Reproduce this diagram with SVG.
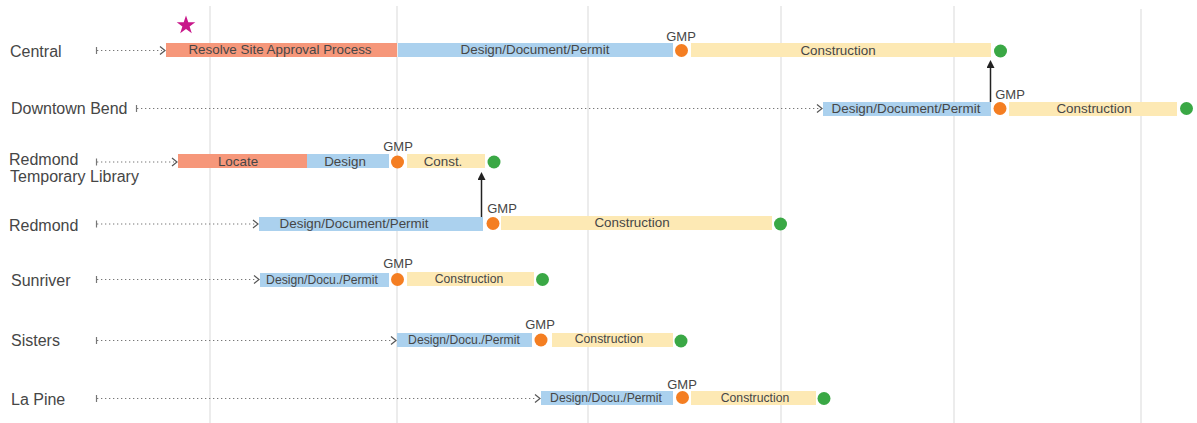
<svg xmlns="http://www.w3.org/2000/svg" width="1197" height="423" viewBox="0 0 1197 423">
<defs>
<style>
.grid{stroke:#e6e6e6;stroke-width:1.5}
.lbl{font-family:"Liberation Sans",Arial,sans-serif;font-size:16px;fill:#464646}
.bt{font-family:"Liberation Sans",Arial,sans-serif;font-size:13.4px;fill:#464646;text-anchor:middle}
.bs{font-family:"Liberation Sans",Arial,sans-serif;font-size:12.2px;fill:#464646;text-anchor:middle}
.gmp{font-family:"Liberation Sans",Arial,sans-serif;font-size:13px;fill:#464646;text-anchor:middle}
.sal{fill:#f6977a}
.blu{fill:#abd1ee}
.yel{fill:#fde9b4}
.org{fill:#f47e22}
.grn{fill:#3aa845}
.dot{stroke:#777;stroke-width:1.2;stroke-dasharray:1.3 2.7;fill:none}
.tick{stroke:#777;stroke-width:1.2}
.chev{stroke:#555;stroke-width:1.2;fill:none}
.dep{stroke:#222;stroke-width:1.5;fill:none}
</style>
<marker id="ah" viewBox="0 0 10 10" refX="5" refY="5" markerWidth="8" markerHeight="8" markerUnits="userSpaceOnUse" orient="auto">
<path d="M0,0 L10,5 L0,10 z" fill="#222"/>
</marker>
</defs>
<rect width="1197" height="423" fill="#fff"/>
<g id="grid">
<line class="grid" x1="210" y1="6" x2="210" y2="423"/>
<line class="grid" x1="397" y1="6" x2="397" y2="423"/>
<line class="grid" x1="588" y1="6" x2="588" y2="423"/>
<line class="grid" x1="781" y1="6" x2="781" y2="423"/>
<line class="grid" x1="954" y1="6" x2="954" y2="423"/>
<line class="grid" x1="1141" y1="9" x2="1141" y2="423"/>
</g>
<g id="star">
<polygon fill="#c8178a" points="186,15.5 188.3,22.3 195.3,22.3 189.6,26.5 191.8,33.3 186,29.1 180.2,33.3 182.4,26.5 176.7,22.3 183.7,22.3"/>
</g>
<g id="connectors">
<line class="tick" x1="96.5" y1="47" x2="96.5" y2="54"/>
<line class="dot" x1="97" y1="50.5" x2="162" y2="50.5"/>
<polyline class="chev" points="160,46.5 165,50.5 160,54.5"/>
<line class="tick" x1="136.5" y1="105" x2="136.5" y2="112"/>
<line class="dot" x1="137" y1="108.5" x2="819" y2="108.5"/>
<polyline class="chev" points="817,104.5 822,108.5 817,112.5"/>
<line class="tick" x1="96.5" y1="158.5" x2="96.5" y2="165.5"/>
<line class="dot" x1="97" y1="162" x2="174" y2="162"/>
<polyline class="chev" points="172,158 177,162 172,166"/>
<line class="tick" x1="96.5" y1="220.5" x2="96.5" y2="227.5"/>
<line class="dot" x1="97" y1="224" x2="255" y2="224"/>
<polyline class="chev" points="253,220 258,224 253,228"/>
<line class="tick" x1="96.5" y1="276" x2="96.5" y2="283"/>
<line class="dot" x1="97" y1="279.5" x2="256" y2="279.5"/>
<polyline class="chev" points="254,275.5 259,279.5 254,283.5"/>
<line class="tick" x1="96.5" y1="337" x2="96.5" y2="344"/>
<line class="dot" x1="97" y1="340.5" x2="393" y2="340.5"/>
<polyline class="chev" points="391,336.5 396,340.5 391,344.5"/>
<line class="tick" x1="96.5" y1="395" x2="96.5" y2="402"/>
<line class="dot" x1="97" y1="398.5" x2="537" y2="398.5"/>
<polyline class="chev" points="535,394.5 540,398.5 535,402.5"/>
<line class="dep" x1="990.5" y1="102" x2="990.5" y2="64" marker-end="url(#ah)"/>
<line class="dep" x1="481.5" y1="217" x2="481.5" y2="176" marker-end="url(#ah)"/>
</g>
<g id="central">
<text class="lbl" x="10" y="57">Central</text>
<rect class="sal" x="166" y="43" width="231" height="14"/>
<text class="bt" x="280" y="54">Resolve Site Approval Process</text>
<rect class="blu" x="398" y="43" width="275" height="14"/>
<text class="bt" x="535" y="54">Design/Document/Permit</text>
<circle class="org" cx="681.5" cy="50.5" r="6.5"/>
<text class="gmp" x="681" y="41">GMP</text>
<rect class="yel" x="691" y="43" width="300" height="14"/>
<text class="bt" x="838" y="55">Construction</text>
<circle class="grn" cx="1000.5" cy="51" r="6.5"/>
</g>
<g id="downtown-bend">
<text class="lbl" x="11" y="114">Downtown Bend</text>
<rect class="blu" x="823" y="102" width="168" height="14"/>
<text class="bt" x="906" y="113">Design/Document/Permit</text>
<circle class="org" cx="1000" cy="108.5" r="6.5"/>
<text class="gmp" x="1010" y="99">GMP</text>
<rect class="yel" x="1009" y="102" width="168" height="14"/>
<text class="bt" x="1094" y="113">Construction</text>
<circle class="grn" cx="1186.5" cy="108.5" r="6.5"/>
</g>
<g id="redmond-temporary-library">
<text class="lbl" x="9" y="165">Redmond</text>
<text class="lbl" x="10" y="182">Temporary Library</text>
<rect class="sal" x="178" y="154" width="129" height="14"/>
<text class="bt" x="238" y="166">Locate</text>
<rect class="blu" x="307" y="154" width="82" height="14"/>
<text class="bt" x="345" y="166">Design</text>
<circle class="org" cx="397.5" cy="162" r="6.5"/>
<text class="gmp" x="398" y="151">GMP</text>
<rect class="yel" x="407" y="154" width="78" height="14"/>
<text class="bt" x="443" y="166">Const.</text>
<circle class="grn" cx="494" cy="162" r="6.5"/>
</g>
<g id="redmond">
<text class="lbl" x="9" y="231">Redmond</text>
<rect class="blu" x="259" y="217" width="224" height="14"/>
<text class="bt" x="354" y="228">Design/Document/Permit</text>
<circle class="org" cx="493" cy="223.5" r="6.5"/>
<text class="gmp" x="502" y="213">GMP</text>
<rect class="yel" x="501" y="216" width="271" height="14"/>
<text class="bt" x="632" y="227">Construction</text>
<circle class="grn" cx="780.5" cy="224" r="6.5"/>
</g>
<g id="sunriver">
<text class="lbl" x="11" y="286">Sunriver</text>
<rect class="blu" x="260" y="273" width="129" height="14"/>
<text class="bs" x="322" y="283.5">Design/Docu./Permit</text>
<circle class="org" cx="397.5" cy="279.5" r="6.5"/>
<text class="gmp" x="398" y="268">GMP</text>
<rect class="yel" x="407" y="272" width="127" height="14"/>
<text class="bs" x="469" y="283">Construction</text>
<circle class="grn" cx="542.5" cy="279.5" r="6.5"/>
</g>
<g id="sisters">
<text class="lbl" x="11" y="346">Sisters</text>
<rect class="blu" x="397" y="333" width="135" height="14"/>
<text class="bs" x="464" y="344">Design/Docu./Permit</text>
<circle class="org" cx="541" cy="340" r="6.5"/>
<text class="gmp" x="540" y="329">GMP</text>
<rect class="yel" x="552" y="333" width="121" height="14"/>
<text class="bs" x="609" y="343">Construction</text>
<circle class="grn" cx="681" cy="341" r="6.5"/>
</g>
<g id="la-pine">
<text class="lbl" x="11" y="405">La Pine</text>
<rect class="blu" x="541" y="391" width="132" height="14"/>
<text class="bs" x="606" y="402">Design/Docu./Permit</text>
<circle class="org" cx="682.5" cy="397.5" r="6.5"/>
<text class="gmp" x="682" y="389">GMP</text>
<rect class="yel" x="691" y="391" width="125" height="14"/>
<text class="bs" x="755" y="402">Construction</text>
<circle class="grn" cx="824" cy="398.5" r="6.5"/>
</g>
</svg>
